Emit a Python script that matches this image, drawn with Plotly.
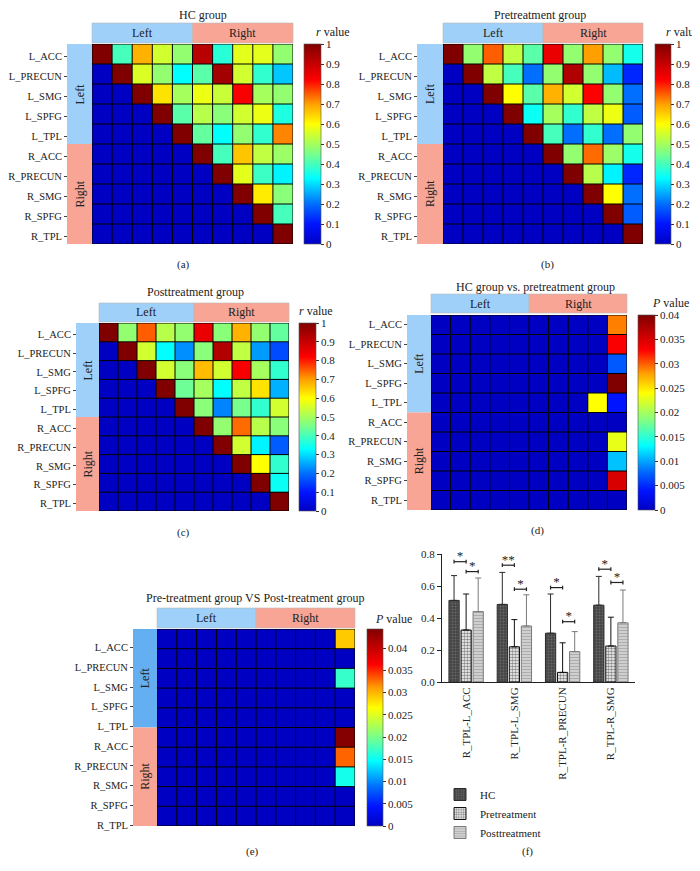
import plotly.graph_objects as go

# ---------------- data ----------------
regions = ["L_ACC", "L_PRECUN", "L_SMG", "L_SPFG", "L_TPL",
           "R_ACC", "R_PRECUN", "R_SMG", "R_SPFG", "R_TPL"]
hemispheres = ["Left", "Right"]

hc_r = [
    [1.00, 0.40, 0.68, 0.55, 0.48, 0.92, 0.37, 0.57, 0.57, 0.48],
    [0, 1.00, 0.56, 0.48, 0.33, 0.42, 0.95, 0.55, 0.38, 0.28],
    [0, 0, 1.00, 0.63, 0.50, 0.58, 0.54, 0.83, 0.50, 0.48],
    [0, 0, 0, 1.00, 0.42, 0.52, 0.47, 0.55, 0.58, 0.36],
    [0, 0, 0, 0, 1.00, 0.43, 0.33, 0.48, 0.38, 0.72],
    [0, 0, 0, 0, 0, 1.00, 0.40, 0.66, 0.53, 0.49],
    [0, 0, 0, 0, 0, 0, 1.00, 0.57, 0.39, 0.32],
    [0, 0, 0, 0, 0, 0, 0, 1.00, 0.62, 0.47],
    [0, 0, 0, 0, 0, 0, 0, 0, 1.00, 0.40],
    [0, 0, 0, 0, 0, 0, 0, 0, 0, 1.00],
]
pre_r = [
    [1.00, 0.48, 0.75, 0.53, 0.42, 0.85, 0.48, 0.70, 0.48, 0.35],
    [0, 1.00, 0.53, 0.40, 0.20, 0.48, 0.93, 0.48, 0.27, 0.12],
    [0, 0, 1.00, 0.60, 0.42, 0.68, 0.55, 0.82, 0.48, 0.20],
    [0, 0, 0, 1.00, 0.34, 0.50, 0.38, 0.53, 0.58, 0.18],
    [0, 0, 0, 0, 1.00, 0.40, 0.20, 0.38, 0.20, 0.48],
    [0, 0, 0, 0, 0, 1.00, 0.48, 0.74, 0.49, 0.35],
    [0, 0, 0, 0, 0, 0, 1.00, 0.52, 0.32, 0.12],
    [0, 0, 0, 0, 0, 0, 0, 1.00, 0.60, 0.20],
    [0, 0, 0, 0, 0, 0, 0, 0, 1.00, 0.18],
    [0, 0, 0, 0, 0, 0, 0, 0, 0, 1.00],
]
post_r = [
    [1.00, 0.48, 0.75, 0.52, 0.48, 0.85, 0.47, 0.68, 0.48, 0.43],
    [0, 1.00, 0.55, 0.33, 0.23, 0.47, 0.93, 0.53, 0.24, 0.16],
    [0, 0, 1.00, 0.55, 0.47, 0.67, 0.55, 0.83, 0.50, 0.38],
    [0, 0, 0, 1.00, 0.44, 0.50, 0.33, 0.53, 0.63, 0.26],
    [0, 0, 0, 0, 1.00, 0.47, 0.22, 0.45, 0.38, 0.55],
    [0, 0, 0, 0, 0, 1.00, 0.48, 0.74, 0.52, 0.47],
    [0, 0, 0, 0, 0, 0, 1.00, 0.55, 0.32, 0.18],
    [0, 0, 0, 0, 0, 0, 0, 1.00, 0.60, 0.38],
    [0, 0, 0, 0, 0, 0, 0, 0, 1.00, 0.34],
    [0, 0, 0, 0, 0, 0, 0, 0, 0, 1.00],
]
hc_vs_pre_p = [
    [0, 0, 0, 0, 0, 0, 0, 0, 0, 0.029],
    [0, 0, 0, 0, 0, 0, 0, 0, 0, 0.033],
    [0, 0, 0, 0, 0, 0, 0, 0, 0, 0.007],
    [0, 0, 0, 0, 0, 0, 0, 0, 0, 0.040],
    [0, 0, 0, 0, 0, 0, 0, 0, 0.024, 0.004],
    [0, 0, 0, 0, 0, 0, 0, 0, 0, 0],
    [0, 0, 0, 0, 0, 0, 0, 0, 0, 0.023],
    [0, 0, 0, 0, 0, 0, 0, 0, 0, 0.011],
    [0, 0, 0, 0, 0, 0, 0, 0, 0, 0.035],
    [0, 0, 0, 0, 0, 0, 0, 0, 0, 0],
]
pre_vs_post_p = [
    [0, 0, 0, 0, 0, 0, 0, 0, 0, 0.029],
    [0, 0, 0, 0, 0, 0, 0, 0, 0, 0],
    [0, 0, 0, 0, 0, 0, 0, 0, 0, 0.017],
    [0, 0, 0, 0, 0, 0, 0, 0, 0, 0],
    [0, 0, 0, 0, 0, 0, 0, 0, 0, 0],
    [0, 0, 0, 0, 0, 0, 0, 0, 0, 0.044],
    [0, 0, 0, 0, 0, 0, 0, 0, 0, 0.033],
    [0, 0, 0, 0, 0, 0, 0, 0, 0, 0.0155],
    [0, 0, 0, 0, 0, 0, 0, 0, 0, 0],
    [0, 0, 0, 0, 0, 0, 0, 0, 0, 0],
]
r_ticks = [0, 0.1, 0.2, 0.3, 0.4, 0.5, 0.6, 0.7, 0.8, 0.9, 1]
p_ticks = [0, 0.005, 0.01, 0.015, 0.02, 0.025, 0.03, 0.035, 0.04]

pairs = ["R_TPL-L_ACC", "R_TPL-L_SMG", "R_TPL-R_PRECUN", "R_TPL-R_SMG"]
groups = ["HC", "Pretreatment", "Posttreatment"]
hc_mean = [0.51, 0.485, 0.305, 0.48]
pre_mean = [0.325, 0.22, 0.06, 0.225]
post_mean = [0.44, 0.35, 0.19, 0.37]
hc_sd = [0.155, 0.20, 0.245, 0.18]
pre_sd = [0.225, 0.17, 0.185, 0.18]
post_sd = [0.21, 0.195, 0.125, 0.205]
sig_hc_pre_y = [0.752, 0.73, 0.59, 0.705]
sig_hc_pre_txt = ["*", "**", "*", "*"]
sig_pre_post_y = [0.69, 0.58, 0.377, 0.622]
sig_pre_post_txt = ["*", "*", "*", "*"]

# ---------------- styling ----------------
W, H = 700, 871
OX, OY = 8, 8  # default page (body) margin of the html page
FONT = "Liberation Serif, Times New Roman, serif"
TXT = "#222222"
LEFT_C = "#9fd0f9"
RIGHT_C = "#f8a595"
JET = [
    [0.0, "rgb(0,0,195)"], [0.1, "rgb(0,20,255)"], [0.2, "rgb(0,110,255)"],
    [0.33, "rgb(0,255,255)"], [0.45, "rgb(120,255,140)"], [0.6, "rgb(255,255,0)"],
    [0.7, "rgb(255,160,0)"], [0.82, "rgb(255,0,0)"], [1.0, "rgb(128,0,0)"],
]


def px(x):
    return (x - OX) / W


def py(y):
    return 1 - (y - OY) / H


panels = [
    dict(z=hc_r, zmax=1.0, ticks=r_ticks, title="HC group", cbt="<i>r</i> value", letter="(a)",
         gx=(92, 293), gy=(44, 244), hy=(23, 43), sx=67, cbx=304, cbw=17,
         tt=(203, 15), ct=(333, 32), lt=(183, 265), off=0.1, side_left=LEFT_C),
    dict(z=pre_r, zmax=1.0, ticks=r_ticks, title="Pretreatment group", cbt="<i>r</i> value", letter="(b)",
         gx=(443, 643), gy=(44, 244), hy=(23, 43), sx=417, cbx=655, cbw=16,
         tt=(540, 15), ct=(683, 32), lt=(547, 265), off=0.1, side_left=LEFT_C),
    dict(z=post_r, zmax=1.0, ticks=r_ticks, title="Posttreatment group", cbt="<i>r</i> value", letter="(c)",
         gx=(99, 289), gy=(323, 511), hy=(303, 322), sx=76, cbx=299, cbw=17,
         tt=(195, 292), ct=(316, 311), lt=(183, 532), off=0.1, side_left=LEFT_C),
    dict(z=hc_vs_pre_p, zmax=0.04, ticks=p_ticks, title="HC group vs. pretreatment group", cbt="<i>P</i> value",
         letter="(d)", gx=(431, 627), gy=(315, 510), hy=(294, 313), sx=407, cbx=638, cbw=17,
         tt=(535, 287), ct=(670, 303), lt=(537, 530), off=0.0, side_left=LEFT_C),
    dict(z=pre_vs_post_p, zmax=0.0443, ticks=p_ticks, title="Pre-treatment group VS Post-treatment group",
         cbt="<i>P</i> value", letter="(e)", gx=(157, 355), gy=(629, 826), hy=(608, 628), sx=133, cbx=367, cbw=16,
         tt=(255, 598), ct=(393, 619), lt=(253, 851), off=0.45, side_left="#63aff2"),
]

fig = go.Figure()
layout_axes = {}
shapes = []
annotations = []
n = len(regions)
idx = list(range(n))


def note(x, y, text, size=12, angle=0):
    annotations.append(dict(x=px(x), y=py(y), xref="paper", yref="paper", text=text, showarrow=False,
                            xanchor="center", yanchor="middle", textangle=angle,
                            font=dict(family=FONT, size=size, color=TXT)))


for i, p in enumerate(panels, start=1):
    xa = "x" if i == 1 else f"x{i}"
    ya = "y" if i == 1 else f"y{i}"
    xk = "xaxis" if i == 1 else f"xaxis{i}"
    yk = "yaxis" if i == 1 else f"yaxis{i}"
    gx0, gx1 = p["gx"]
    gy0, gy1 = p["gy"]
    fig.add_trace(go.Heatmap(
        z=p["z"], x=idx, y=idx, xaxis=xa, yaxis=ya, colorscale=JET,
        zmin=0, zmax=p["zmax"], hoverinfo="skip",
        colorbar=dict(
            x=px(p["cbx"]), xanchor="left", y=py(gy1), yanchor="bottom",
            len=(gy1 - gy0) / H, lenmode="fraction", thickness=p["cbw"], thicknessmode="pixels",
            xpad=0, ypad=0, tickvals=p["ticks"], ticktext=[f"{v:g}" for v in p["ticks"]],
            ticks="outside", ticklen=3, tickcolor="#333", outlinewidth=0.6, outlinecolor="#555",
            tickfont=dict(family=FONT, size=11, color=TXT),
        ),
    ))
    layout_axes[xk] = dict(domain=[px(gx0), px(gx1)], range=[-0.5, n - 0.5], visible=False,
                           anchor=ya, fixedrange=True)
    layout_axes[yk] = dict(domain=[py(gy1), py(gy0)], range=[n - 0.5, -0.5], anchor="free",
                           position=px(p["sx"]), tickmode="array",
                           tickvals=[k + p["off"] for k in idx], ticktext=regions,
                           ticks="outside", ticklen=3, tickcolor="#444", showgrid=False,
                           zeroline=False, showline=False, fixedrange=True, automargin=False,
                           tickfont=dict(family=FONT, size=10.5, color=TXT))
    # black cell grid and border
    for k in range(n - 1):
        shapes.append(dict(type="line", xref=xa, yref=ya, x0=k + 0.5, x1=k + 0.5, y0=-0.5, y1=n - 0.5,
                           line=dict(color="black", width=1), layer="above"))
        shapes.append(dict(type="line", xref=xa, yref=ya, y0=k + 0.5, y1=k + 0.5, x0=-0.5, x1=n - 0.5,
                           line=dict(color="black", width=1), layer="above"))
    shapes.append(dict(type="rect", xref=xa, yref=ya, x0=-0.5, x1=n - 0.5, y0=-0.5, y1=n - 0.5,
                       fillcolor="rgba(0,0,0,0)", line=dict(width=1, color="black"), layer="above"))
    # header bands
    hy0, hy1 = p["hy"]
    xm = (gx0 + gx1) / 2
    for (a, b), lab, col in zip([(gx0, xm), (xm, gx1)], hemispheres, [LEFT_C, RIGHT_C]):
        shapes.append(dict(type="rect", xref="paper", yref="paper", x0=px(a), x1=px(b),
                           y0=py(hy1), y1=py(hy0), fillcolor=col, line=dict(width=0.6, color="#bbbbbb")))
        note((a + b) / 2, (hy0 + hy1) / 2, lab)
    # side bands
    ym = (gy0 + gy1) / 2
    for (a, b), lab, col in zip([(gy0, ym), (ym, gy1)], hemispheres, [p["side_left"], RIGHT_C]):
        shapes.append(dict(type="rect", xref="paper", yref="paper", x0=px(p["sx"]), x1=px(gx0),
                           y0=py(b), y1=py(a), fillcolor=col, line=dict(width=0)))
        note((p["sx"] + gx0) / 2, (a + b) / 2, lab, angle=-90)
    note(p["tt"][0], p["tt"][1], p["title"])
    note(p["ct"][0], p["ct"][1], p["cbt"])
    note(p["lt"][0], p["lt"][1], p["letter"], size=11)

# ---------------- bar chart (f) ----------------
gpos = list(range(len(pairs)))
bar_specs = [
    (groups[0], hc_mean, hc_sd, "#4d4d4d", dict(shape=".", fgcolor="#8a8a8a", bgcolor="#444444", size=3, solidity=0.35), "#2a2a2a"),
    (groups[1], pre_mean, pre_sd, "#ffffff", dict(shape=".", fgcolor="#111111", bgcolor="#ffffff", size=3, solidity=0.55), "#111111"),
    (groups[2], post_mean, post_sd, "#c4c4c4", dict(shape="-", fgcolor="#8c8c8c", bgcolor="#cfcfcf", size=3, solidity=0.35), "#7a7a7a"),
]
for name, mean, sd, col, pat, lc in bar_specs:
    fig.add_trace(go.Bar(
        x=gpos, y=mean, name=name, xaxis="x6", yaxis="y6",
        marker=dict(color=col, pattern=pat, line=dict(color=lc, width=1)),
        error_y=dict(type="data", symmetric=False, array=sd, arrayminus=[0] * len(sd),
                     color=lc, thickness=1, width=3),
        hoverinfo="skip",
    ))

slot = 0.25  # bar slot width inside a group (bargap 0.25, 3 bars)
cap = 0.012
bx, by, sx_, sy_, st_ = [], [], [], [], []
for g in gpos:
    for (o0, o1), hs, ts in [((-1, 0), sig_hc_pre_y, sig_hc_pre_txt), ((0, 1), sig_pre_post_y, sig_pre_post_txt)]:
        x0, x1, h = g + o0 * slot, g + o1 * slot, hs[g]
        bx += [x0, x0, None, x0, x1, None, x1, x1, None]
        by += [h - cap, h + cap, None, h, h, None, h - cap, h + cap, None]
        sx_.append((x0 + x1) / 2)
        sy_.append(h + 0.028)
        st_.append(ts[g])
fig.add_trace(go.Scatter(x=bx, y=by, mode="lines", line=dict(color="#222", width=1.2),
                         xaxis="x6", yaxis="y6", showlegend=False, hoverinfo="skip"))
fig.add_trace(go.Scatter(x=sx_, y=sy_, mode="text", text=st_, textposition="middle center",
                         textfont=dict(family=FONT, size=13, color="#222"), cliponaxis=False,
                         xaxis="x6", yaxis="y6", showlegend=False, hoverinfo="skip"))

layout_axes["xaxis6"] = dict(domain=[px(442), px(635)], range=[-0.5, len(pairs) - 0.5], anchor="y6",
                             tickmode="array", tickvals=gpos, ticktext=pairs, tickangle=-90,
                             showline=True, linecolor="#222", linewidth=1, ticks="", showgrid=False,
                             zeroline=False, fixedrange=True, automargin=False,
                             tickfont=dict(family=FONT, size=11, color=TXT))
layout_axes["yaxis6"] = dict(domain=[py(682), py(554)], range=[0, 0.8], anchor="x6",
                             tickvals=[0, 0.2, 0.4, 0.6, 0.8], ticktext=["0.0", "0.2", "0.4", "0.6", "0.8"],
                             showline=True, linecolor="#222", linewidth=1, ticks="outside", ticklen=4,
                             tickcolor="#222", showgrid=False, zeroline=False, fixedrange=True,
                             automargin=False, tickfont=dict(family=FONT, size=11, color=TXT))
note(527, 851, "(f)", size=11)

fig.update_layout(
    width=W, height=H, margin=dict(l=0, r=0, t=0, b=0, pad=0, autoexpand=False),
    paper_bgcolor="white", plot_bgcolor="white",
    barmode="group", bargap=0.25, bargroupgap=0.15,
    shapes=shapes, annotations=annotations,
    legend=dict(x=px(440), y=py(780), xanchor="left", yanchor="top", bgcolor="rgba(0,0,0,0)",
                font=dict(family=FONT, size=11, color=TXT), tracegroupgap=0, itemwidth=30),
    **layout_axes,
)

fig.write_html("out.html")
